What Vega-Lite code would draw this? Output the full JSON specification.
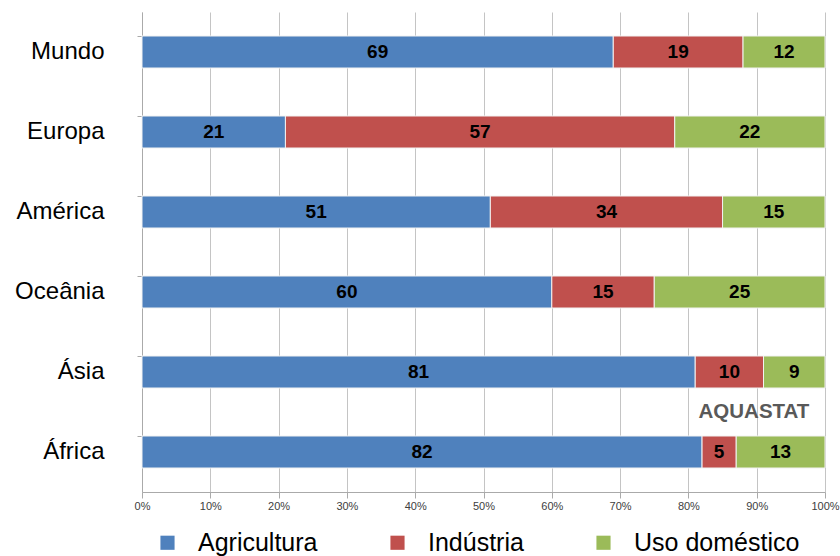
{
  "$schema": "https://vega.github.io/schema/vega-lite/v6.json",
  "width": 683,
  "height": 480,
  "autosize": "none",
  "padding": {"left": 142, "top": 12, "right": 15, "bottom": 64},
  "background": "white",
  "config": {
    "font": "Liberation Sans",
    "view": {"stroke": null}
  },
  "data": {
    "values": [
      {"region": "Mundo", "uso": "Agricultura", "v": 69},
      {"region": "Mundo", "uso": "Indústria", "v": 19},
      {"region": "Mundo", "uso": "Uso doméstico", "v": 12},
      {"region": "Europa", "uso": "Agricultura", "v": 21},
      {"region": "Europa", "uso": "Indústria", "v": 57},
      {"region": "Europa", "uso": "Uso doméstico", "v": 22},
      {"region": "América", "uso": "Agricultura", "v": 51},
      {"region": "América", "uso": "Indústria", "v": 34},
      {"region": "América", "uso": "Uso doméstico", "v": 15},
      {"region": "Oceânia", "uso": "Agricultura", "v": 60},
      {"region": "Oceânia", "uso": "Indústria", "v": 15},
      {"region": "Oceânia", "uso": "Uso doméstico", "v": 25},
      {"region": "Ásia", "uso": "Agricultura", "v": 81},
      {"region": "Ásia", "uso": "Indústria", "v": 10},
      {"region": "Ásia", "uso": "Uso doméstico", "v": 9},
      {"region": "África", "uso": "Agricultura", "v": 82},
      {"region": "África", "uso": "Indústria", "v": 5},
      {"region": "África", "uso": "Uso doméstico", "v": 13}
    ]
  },
  "transform": [
    {"stack": "v", "groupby": ["region"], "sort": [{"field": "uso", "order": "ascending"}], "as": ["x0", "x1"]},
    {"calculate": "(datum.x0 + datum.x1) / 2", "as": "xm"}
  ],
  "encoding": {
    "y": {
      "field": "region",
      "type": "nominal",
      "sort": ["Mundo", "Europa", "América", "Oceânia", "Ásia", "África"],
      "scale": {"paddingInner": 0.6, "paddingOuter": 0.3},
      "axis": {
        "title": null,
        "domainColor": "#aaaaaa",
        "tickColor": "#aaaaaa",
        "tickSize": 5,
        "bandPosition": 0,
        "labelFontSize": 24,
        "labelColor": "#000000",
        "labelPadding": 33,
        "labelAlign": "right",
        "labelBaseline": "middle"
      }
    }
  },
  "layer": [
    {
      "mark": {"type": "bar", "stroke": "#f2f2f2", "strokeWidth": 1},
      "encoding": {
        "x": {
          "field": "x0",
          "type": "quantitative",
          "scale": {"domain": [0, 100], "nice": false},
          "axis": {
            "title": null,
            "values": [0, 10, 20, 30, 40, 50, 60, 70, 80, 90, 100],
            "labelExpr": "datum.value + '%'",
            "labelFlush": false,
            "labelFontSize": 11,
            "labelColor": "#404040",
            "labelPadding": 2,
            "tickSize": 6,
            "tickColor": "#aaaaaa",
            "domainColor": "#aaaaaa",
            "grid": true,
            "gridColor": "#c4c4c4",
            "gridWidth": 1
          }
        },
        "x2": {"field": "x1"},
        "color": {
          "field": "uso",
          "type": "nominal",
          "scale": {
            "domain": ["Agricultura", "Indústria", "Uso doméstico"],
            "range": ["#4f81bd", "#c0504d", "#9bbb59"]
          },
          "legend": {
            "title": null,
            "orient": "none",
            "direction": "horizontal",
            "legendX": 13,
            "legendY": 518,
            "symbolType": "square",
            "symbolSize": 200,
            "symbolStrokeWidth": 0,
            "labelFontSize": 25,
            "labelColor": "#000000",
            "labelOffset": 18,
            "labelLimit": 400,
            "columnPadding": 67
          }
        }
      }
    },
    {
      "mark": {"type": "text", "fontSize": 19, "fontWeight": "bold", "color": "#000000", "align": "center", "baseline": "middle"},
      "encoding": {
        "x": {"field": "xm", "type": "quantitative"},
        "text": {"field": "v", "type": "quantitative"}
      }
    },
    {
      "data": {"values": [{"label": "AQUASTAT", "xv": 89.6, "region": "África"}]},
      "transform": [],
      "mark": {"type": "text", "fontSize": 20.5, "fontWeight": "bold", "color": "#595959", "align": "center", "baseline": "middle", "dy": -40},
      "encoding": {
        "x": {"field": "xv", "type": "quantitative"},
        "text": {"field": "label"}
      }
    }
  ]
}
